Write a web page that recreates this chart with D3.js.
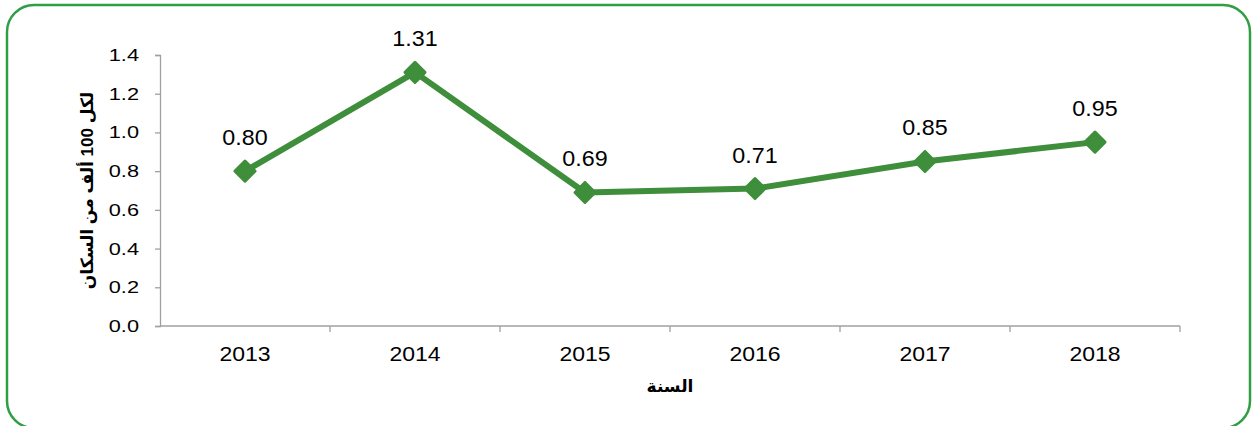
<!DOCTYPE html>
<html>
<head>
<meta charset="utf-8">
<script src="https://cdn.jsdelivr.net/npm/d3@7"></script>
<style>
  body { margin: 0; background: #fff; }
  svg text { font-family: Arial, "Liberation Sans", "DejaVu Sans", sans-serif; fill: #000; }
</style>
</head>
<body>
<div id="chart"></div>
<script>
const years = ['2013', '2014', '2015', '2016', '2017', '2018'];
const rates = [0.80, 1.31, 0.69, 0.71, 0.85, 0.95];
const yTicks = [0, 0.2, 0.4, 0.6, 0.8, 1.0, 1.2, 1.4];
const yTitle = 'لكل 100 ألف من السكان';
const xTitle = 'السنة';

const width = 1253;
const height = 426;
const margin = { top: 55, right: 73, bottom: 100, left: 160 };
const lineColor = '#3e8e3b';
const axisColor = '#a0a0a0';

const svg = d3
  .select('#chart')
  .append('svg')
  .attr('width', width)
  .attr('height', height);

// outer rounded frame
svg
  .append('rect')
  .attr('x', 7)
  .attr('y', 5)
  .attr('width', 1243)
  .attr('height', 423)
  .attr('rx', 27)
  .style('fill', 'none')
  .style('stroke', '#2f9e45')
  .style('stroke-width', 2.5);

const xScale = d3
  .scaleBand()
  .domain(years)
  .range([margin.left, width - margin.right]);

const yScale = d3
  .scaleLinear()
  .domain([0, 1.4])
  .range([height - margin.bottom, margin.top]);

const y0 = yScale(0);

// y axis (labels are a bit wider than plain Arial in the original)
const yStretch = 1.28;
const yAxis = svg
  .append('g')
  .attr('class', 'y-axis')
  .attr('transform', `translate(${margin.left},0)`)
  .call(d3.axisLeft(yScale).tickValues(yTicks).tickFormat(d3.format('.1f')).tickSize(5).tickPadding(16));

yAxis.select('.domain').style('stroke', axisColor).style('stroke-width', 1.3);
yAxis.selectAll('.tick line').style('stroke', axisColor).style('stroke-width', 1.3);
yAxis
  .selectAll('.tick text')
  .attr('x', -21 / yStretch)
  .attr('transform', `scale(${yStretch},1)`)
  .style('font-size', '17px');

// x axis line with ticks on band boundaries
svg
  .append('line')
  .attr('x1', xScale.range()[0])
  .attr('x2', xScale.range()[1])
  .attr('y1', y0)
  .attr('y2', y0)
  .style('stroke', axisColor)
  .style('stroke-width', 1.3);

const boundaries = years.map((d) => xScale(d) + xScale.bandwidth());

svg
  .selectAll('.x-tick')
  .data(boundaries)
  .enter()
  .append('line')
  .attr('class', 'x-tick')
  .attr('x1', (d) => d)
  .attr('x2', (d) => d)
  .attr('y1', y0)
  .attr('y2', y0 + 6)
  .style('stroke', axisColor)
  .style('stroke-width', 1.3);

svg
  .selectAll('.x-label')
  .data(years)
  .enter()
  .append('text')
  .attr('class', 'x-label')
  .attr('transform', (d) => `translate(${xScale(d) + xScale.bandwidth() / 2},${y0 + 35}) scale(1.18,1)`)
  .style('text-anchor', 'middle')
  .style('font-size', '19.5px')
  .text((d) => d);

// axis titles
svg
  .append('text')
  .attr('x', (xScale.range()[0] + xScale.range()[1]) / 2)
  .attr('y', y0 + 66)
  .style('text-anchor', 'middle')
  .style('font-size', '17px')
  .style('font-weight', 'bold')
  .text(xTitle);

svg
  .append('text')
  .attr('transform', 'rotate(-90)')
  .attr('x', -(yScale(0) + yScale(1.4)) / 2)
  .attr('y', 93)
  .style('text-anchor', 'middle')
  .style('font-size', '17px')
  .style('font-weight', 'bold')
  .text(yTitle);

// series
const points = years.map((d, i) => ({ year: d, value: rates[i] }));
const cx = (d) => xScale(d.year) + xScale.bandwidth() / 2;

const line = d3
  .line()
  .x(cx)
  .y((d) => yScale(d.value));

svg
  .append('path')
  .datum(points)
  .attr('d', line)
  .style('fill', 'none')
  .style('stroke', lineColor)
  .style('stroke-width', 6)
  .style('stroke-linejoin', 'round');

svg
  .selectAll('.marker')
  .data(points)
  .enter()
  .append('path')
  .attr('class', 'marker')
  .attr('d', d3.symbol().type(d3.symbolSquare).size(200))
  .attr('transform', (d) => `translate(${cx(d)},${yScale(d.value)}) rotate(45)`)
  .style('fill', lineColor)
  .style('stroke', lineColor)
  .style('stroke-width', 3)
  .style('stroke-linejoin', 'round');

svg
  .selectAll('.value-label')
  .data(points)
  .enter()
  .append('text')
  .attr('class', 'value-label')
  .attr('transform', (d) => `translate(${cx(d)},${yScale(d.value) - 26}) scale(1.06,1)`)
  .style('text-anchor', 'middle')
  .style('font-size', '22px')
  .text((d) => d3.format('.2f')(d.value));
</script>
</body>
</html>
